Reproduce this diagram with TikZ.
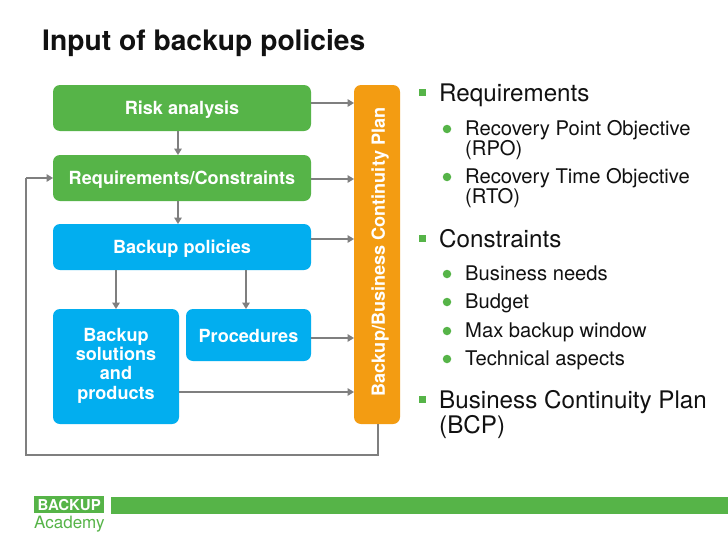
\documentclass[tikz,border=0pt]{standalone}
\usepackage{fontspec}
\setmainfont{TeX Gyre Heros}
\usetikzlibrary{arrows.meta}
\definecolor{bgreen}{HTML}{56B448}
\definecolor{bblue}{HTML}{02AEEF}
\definecolor{borange}{HTML}{F39C12}
\definecolor{cgray}{HTML}{7F7F7F}
\definecolor{txtblack}{HTML}{111111}
\tikzset{
  box/.style={inner sep=0pt,outer sep=0pt,rounded corners=7pt,text=white,align=center,
    text height=13.6pt,text depth=0pt,
    font=\fontsize{18.1}{19.3}\selectfont\bfseries},
  greenbox/.style={box,fill=bgreen},
  bluebox/.style={box,fill=bblue},
  orangebox/.style={box,fill=borange},
  boxtext/.style={text=white,align=center,inner sep=0pt,font=\fontsize{18.1}{19.3}\selectfont\bfseries},
  conn/.style={draw=cgray,line width=2.2pt,-{Triangle[length=6.5pt,width=7.5pt]}},
  connplain/.style={draw=cgray,line width=2.2pt},
  level one/.style={anchor=base west,inner sep=0pt,text=txtblack,align=left,font=\fontsize{24.2}{25}\selectfont},
  level two/.style={anchor=base west,inner sep=0pt,text=txtblack,align=left,font=\fontsize{20.2}{20}\selectfont},
  sqbullet/.style={fill=bgreen,minimum size=7pt,inner sep=0pt},
  dotbullet/.style={circle,fill=bgreen,minimum size=8.5pt,inner sep=0pt},
}
\begin{document}
\begin{tikzpicture}[x=1pt,y=-1pt]
\useasboundingbox (0,0) rectangle (728,546);
\fill[white] (0,0) rectangle (728,546);
\node[anchor=base west,inner sep=0pt,text=txtblack,font=\fontsize{28.2}{30}\selectfont\bfseries] (title) at (42,50) {Input of backup policies};

\node[greenbox,minimum width=258pt,minimum height=46pt] (risk) at (182,108) {Risk analysis};
\node[greenbox,minimum width=258pt,minimum height=46pt] (req) at (182,178) {Requirements/Constraints};
\node[bluebox,minimum width=258pt,minimum height=46pt] (pol) at (182,247) {Backup policies};
\node[bluebox,minimum width=126pt,minimum height=115pt,anchor=north] (sol) at (116,309) {};
\node[boxtext,anchor=base] (soltext) at (116,399) {Backup\\solutions\\and\\products};
\node[bluebox,minimum width=125pt,minimum height=52pt] (proc) at (248.5,335) {};
\node[boxtext,anchor=base] (proctext) at (248.5,342) {Procedures};
\node[orangebox,minimum width=46pt,minimum height=339pt] (plan) at (377,254.5) {};
\node[boxtext,anchor=center,rotate=90] (plantext) at (380,252) {Backup/Business Continuity Plan};

\draw[conn] (risk.east |- 0,103) -- (plan.west |- 0,103);
\draw[conn] (req.east |- 0,179) -- (plan.west |- 0,179);
\draw[conn] (pol.east |- 0,239) -- (plan.west |- 0,239);
\draw[conn] (proc.east |- 0,338) -- (plan.west |- 0,338);
\draw[conn] (sol.east |- 0,392) -- (plan.west |- 0,392);
\draw[conn] (178,0 |- risk.south) -- (178,0 |- req.north);
\draw[conn] (178,0 |- req.south) -- (178,0 |- pol.north);
\draw[conn] (116,0 |- pol.south) -- (116,0 |- sol.north);
\draw[conn] (246,0 |- pol.south) -- (246,0 |- proc.north);
\coordinate (fbr) at (378,455);
\coordinate (fbl) at (26,455);
\coordinate (fbt) at (26,178);
\draw[connplain] (378,0 |- plan.south) -- (fbr) -- (fbl) -- (fbt);
\draw[conn] (fbt) -- (req.west);

\node[sqbullet] (s1) at (422.5,92) {};
\node[level one] (t1) at (439,101) {Requirements};
\node[dotbullet] (d1) at (447,129) {};
\node[level two] (u1) at (465,155) {Recovery Point Objective\\(RPO)};
\node[dotbullet] (d2) at (447,177) {};
\node[level two] (u2) at (465,203) {Recovery Time Objective\\(RTO)};
\node[sqbullet] (s2) at (422.5,238) {};
\node[level one] (t2) at (439,247) {Constraints};
\node[dotbullet] (d3) at (447,274) {};
\node[level two] (u3) at (465,280) {Business needs};
\node[dotbullet] (d4) at (447,302) {};
\node[level two] (u4) at (465,308) {Budget};
\node[dotbullet] (d5) at (447,331) {};
\node[level two] (u5) at (465,337) {Max backup window};
\node[dotbullet] (d6) at (447,359) {};
\node[level two] (u6) at (465,365) {Technical aspects};
\node[sqbullet] (s3) at (422.5,399) {};
\node[level one] (t3) at (439,433) {Business Continuity Plan\\(BCP)};

\node[fill=bgreen,minimum width=617pt,minimum height=17pt,inner sep=0pt,anchor=north west] (bar) at (111,497) {};
\node[fill=bgreen,text=white,minimum width=70pt,minimum height=17pt,inner sep=0pt,anchor=north west,font=\fontsize{15}{15}\selectfont\bfseries] (logo) at (34,496) {BACKUP};
\node[anchor=base west,inner sep=0pt,text=bgreen,font=\fontsize{17}{17}\selectfont] (acad) at (34,528) {Academy};
\end{tikzpicture}
\end{document}
